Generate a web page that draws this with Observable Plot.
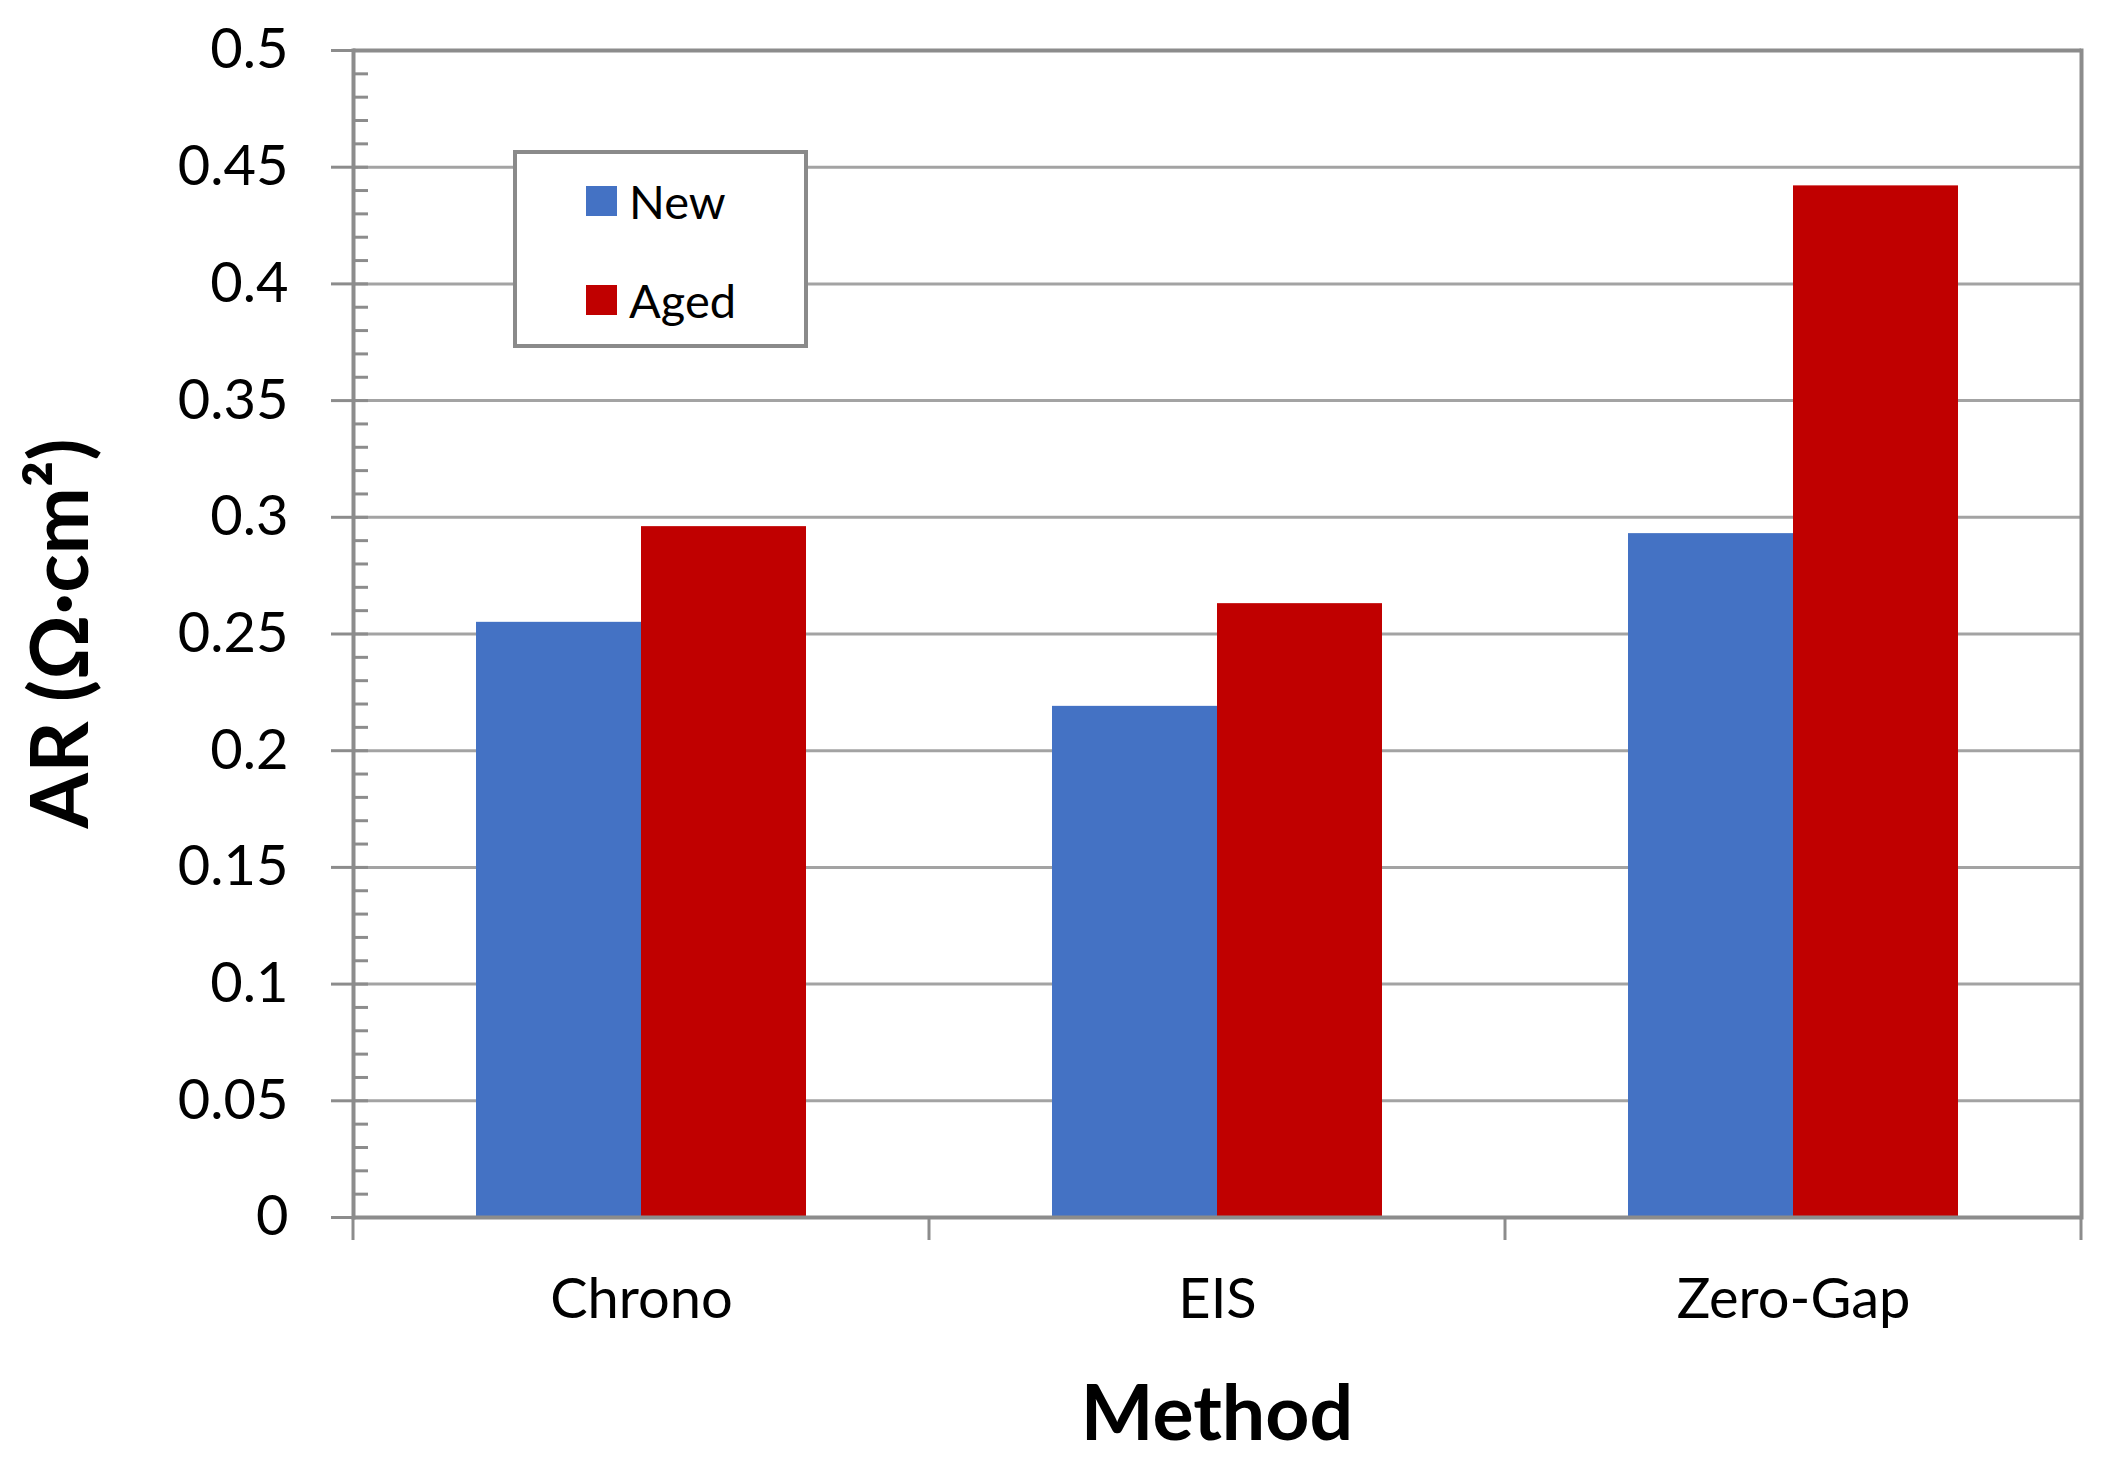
<!DOCTYPE html>
<html>
<head>
<meta charset="utf-8">
<script src="https://cdn.jsdelivr.net/npm/d3@7"></script>
<script src="https://cdn.jsdelivr.net/npm/@observablehq/plot@0.6"></script>
<style>
  html, body { margin: 0; padding: 0; background: #fff; }
  #wrap { position: relative; width: 2128px; height: 1468px; font-family: Lato, "Open Sans", sans-serif; }
  #wrap svg { display: block; }
  #legend {
    position: absolute; left: 513px; top: 150px; width: 287px; height: 190px;
    border: 4px solid #8a8a8a; background: #fff;
  }
  .item { position: absolute; left: 69px; display: flex; align-items: center; font-size: 47px; color: #000; }
  .sw { width: 31px; height: 30px; margin-right: 12px; }
</style>
</head>
<body>
<div id="wrap"></div>
<script>
const methods = ["Chrono", "EIS", "Zero-Gap"];
const seriesNames = ["New", "Aged"];
const newValues = [0.255, 0.219, 0.293];
const agedValues = [0.296, 0.263, 0.442];
const seriesColors = ["#4472C4", "#C00000"];
const yMajorTicks = [0, 0.05, 0.1, 0.15, 0.2, 0.25, 0.3, 0.35, 0.4, 0.45, 0.5];
const yTickLabels = ["0", "0.05", "0.1", "0.15", "0.2", "0.25", "0.3", "0.35", "0.4", "0.45", "0.5"];
const yMinorTicks = d3.range(0, 51).map(i => i / 100);
const xTitle = "Method";
const yTitle = "AR (Ω·cm²)";

const data = methods.flatMap((m, i) => [
  {method: m, series: seriesNames[0], value: newValues[i]},
  {method: m, series: seriesNames[1], value: agedValues[i]}
]);

const axisColor = "#8c8c8c";
const gridColor = "#a3a3a3";

const chart = Plot.plot({
  width: 2128,
  height: 1468,
  marginLeft: 352,
  marginRight: 46,
  marginTop: 50,
  marginBottom: 251,
  style: {fontFamily: "Lato, 'Open Sans', sans-serif", fontSize: "56px", color: "#000", background: "#fff"},
  fx: {domain: methods, padding: 0, label: null},
  x: {domain: seriesNames, paddingInner: 0, paddingOuter: 0.737, axis: null},
  y: {domain: [0, 0.5], axis: null},
  color: {domain: seriesNames, range: seriesColors},
  marks: [
    Plot.gridY(yMajorTicks, {stroke: gridColor, strokeOpacity: 1, strokeWidth: 3}),
    Plot.barY(data, {fx: "method", x: "series", y: "value", fill: "series"}),
    Plot.ruleY([0], {stroke: axisColor, strokeWidth: 4}),
    Plot.frame({anchor: "left", facetAnchor: "left", stroke: axisColor, strokeWidth: 4}),
    Plot.frame({anchor: "right", facetAnchor: "right", stroke: axisColor, strokeWidth: 4}),
    Plot.ruleY([0.5], {stroke: axisColor, strokeWidth: 4}),
    Plot.axisY(yMinorTicks, {tickSize: -15, tickFormat: () => "", label: null, stroke: axisColor, strokeWidth: 3}),
    Plot.axisY(yMajorTicks, {
      tickSize: 22, tickPadding: 43, stroke: axisColor, strokeWidth: 3, label: null,
      tickFormat: d => yTickLabels[yMajorTicks.indexOf(d)], fontSize: 56, fill: "#000"
    }),
    Plot.axisFx({anchor: "bottom", tickSize: 0, tickPadding: 61, fontSize: 56, label: null, fill: "#000"})
  ]
});

document.getElementById("wrap").appendChild(chart);

// category boundary ticks and axis titles, placed with the library's scales
const fxS = chart.scale("fx");
const yS = chart.scale("y");
const y0 = yS.apply(0);
const bw = fxS.bandwidth;
const edges = methods.map(m => fxS.apply(m)).concat([fxS.apply(methods[methods.length - 1]) + bw]);
const svg = d3.select(chart);
const g = svg.append("g");
g.selectAll("line").data(edges).join("line")
  .attr("x1", d => d).attr("x2", d => d)
  .attr("y1", y0).attr("y2", y0 + 23)
  .attr("stroke", axisColor).attr("stroke-width", 3);

const xr = fxS.range;
svg.append("text")
  .attr("x", (xr[0] + xr[1]) / 2).attr("y", y0 + 223)
  .attr("text-anchor", "middle")
  .attr("font-size", 77).attr("font-weight", "bold").attr("fill", "#000")
  .attr("font-family", "Lato, 'Open Sans', sans-serif")
  .text(xTitle);

const yr = yS.range;
svg.append("text")
  .attr("transform", `translate(88,${(yr[0] + yr[1]) / 2}) rotate(-90)`)
  .attr("text-anchor", "middle")
  .attr("font-size", 80).attr("font-weight", "bold").attr("fill", "#000")
  .attr("font-family", "Lato, 'Open Sans', sans-serif")
  .text(yTitle);

// legend
const legend = document.createElement("div");
legend.id = "legend";
const tops = [33, 132];
seriesNames.forEach((s, i) => {
  const it = document.createElement("div");
  it.className = "item";
  it.style.top = (tops[i] - 14) + "px";
  const sw = document.createElement("div");
  sw.className = "sw";
  sw.style.background = seriesColors[i];
  it.appendChild(sw);
  const t = document.createElement("span");
  t.textContent = s;
  it.appendChild(t);
  legend.appendChild(it);
});
document.getElementById("wrap").appendChild(legend);
</script>
</body>
</html>
